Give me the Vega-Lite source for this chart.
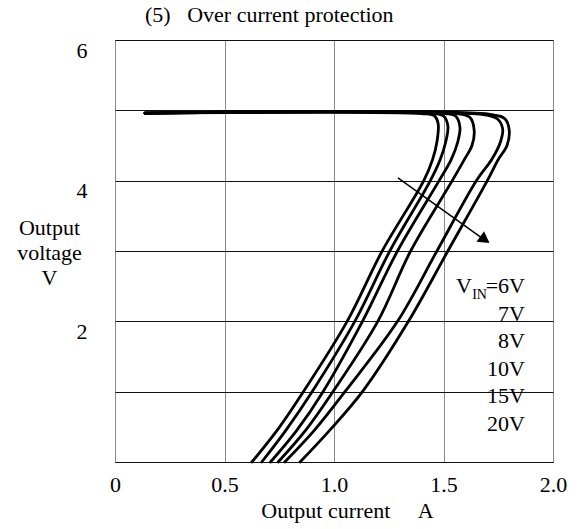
{
  "$schema": "https://vega.github.io/schema/vega-lite/v6.json",
  "autosize": {"type": "none"},
  "padding": {"left": 115, "top": 40, "right": 34, "bottom": 67},
  "width": 438,
  "height": 422,
  "background": "white",
  "config": {
    "font": "Liberation Serif",
    "view": {"stroke": "black", "strokeWidth": 1},
    "text": {"font": "Liberation Serif", "color": "black"}
  },
  "title": {
    "text": "(5)\u00a0\u00a0\u00a0Over current protection",
    "anchor": "start",
    "frame": "group",
    "dx": 30,
    "dy": 23,
    "offset": 13,
    "baseline": "bottom",
    "font": "Liberation Serif",
    "fontSize": 22,
    "fontWeight": "normal",
    "color": "black"
  },
  "datasets": {
    "curves": [
      {"vin": "6V", "i": 0, "A": 0.137, "V": 4.96},
      {"vin": "6V", "i": 1, "A": 1.40, "V": 4.955},
      {"vin": "6V", "i": 2, "A": 1.455, "V": 4.93},
      {"vin": "6V", "i": 3, "A": 1.475, "V": 4.82},
      {"vin": "6V", "i": 4, "A": 1.47, "V": 4.55},
      {"vin": "6V", "i": 5, "A": 1.45, "V": 4.3},
      {"vin": "6V", "i": 6, "A": 1.41, "V": 4.0},
      {"vin": "6V", "i": 7, "A": 1.22, "V": 3.0},
      {"vin": "6V", "i": 8, "A": 1.06, "V": 2.0},
      {"vin": "6V", "i": 9, "A": 0.86, "V": 1.0},
      {"vin": "6V", "i": 10, "A": 0.74, "V": 0.45},
      {"vin": "6V", "i": 11, "A": 0.625, "V": 0.0},
      {"vin": "7V", "i": 0, "A": 0.137, "V": 4.96},
      {"vin": "7V", "i": 1, "A": 1.45, "V": 4.955},
      {"vin": "7V", "i": 2, "A": 1.50, "V": 4.92},
      {"vin": "7V", "i": 3, "A": 1.52, "V": 4.78},
      {"vin": "7V", "i": 4, "A": 1.51, "V": 4.55},
      {"vin": "7V", "i": 5, "A": 1.485, "V": 4.3},
      {"vin": "7V", "i": 6, "A": 1.44, "V": 4.0},
      {"vin": "7V", "i": 7, "A": 1.255, "V": 3.0},
      {"vin": "7V", "i": 8, "A": 1.095, "V": 2.0},
      {"vin": "7V", "i": 9, "A": 0.90, "V": 1.0},
      {"vin": "7V", "i": 10, "A": 0.78, "V": 0.45},
      {"vin": "7V", "i": 11, "A": 0.67, "V": 0.0},
      {"vin": "8V", "i": 0, "A": 0.137, "V": 4.96},
      {"vin": "8V", "i": 1, "A": 1.51, "V": 4.955},
      {"vin": "8V", "i": 2, "A": 1.555, "V": 4.92},
      {"vin": "8V", "i": 3, "A": 1.575, "V": 4.76},
      {"vin": "8V", "i": 4, "A": 1.565, "V": 4.55},
      {"vin": "8V", "i": 5, "A": 1.535, "V": 4.3},
      {"vin": "8V", "i": 6, "A": 1.48, "V": 4.0},
      {"vin": "8V", "i": 7, "A": 1.29, "V": 3.0},
      {"vin": "8V", "i": 8, "A": 1.13, "V": 2.0},
      {"vin": "8V", "i": 9, "A": 0.95, "V": 1.0},
      {"vin": "8V", "i": 10, "A": 0.83, "V": 0.45},
      {"vin": "8V", "i": 11, "A": 0.71, "V": 0.0},
      {"vin": "10V", "i": 0, "A": 0.137, "V": 4.96},
      {"vin": "10V", "i": 1, "A": 1.57, "V": 4.95},
      {"vin": "10V", "i": 2, "A": 1.62, "V": 4.9},
      {"vin": "10V", "i": 3, "A": 1.64, "V": 4.72},
      {"vin": "10V", "i": 4, "A": 1.63, "V": 4.5},
      {"vin": "10V", "i": 5, "A": 1.595, "V": 4.3},
      {"vin": "10V", "i": 6, "A": 1.54, "V": 4.0},
      {"vin": "10V", "i": 7, "A": 1.35, "V": 3.0},
      {"vin": "10V", "i": 8, "A": 1.20, "V": 2.0},
      {"vin": "10V", "i": 9, "A": 0.995, "V": 1.0},
      {"vin": "10V", "i": 10, "A": 0.87, "V": 0.45},
      {"vin": "10V", "i": 11, "A": 0.745, "V": 0.0},
      {"vin": "15V", "i": 0, "A": 0.137, "V": 4.96},
      {"vin": "15V", "i": 1, "A": 1.68, "V": 4.94},
      {"vin": "15V", "i": 2, "A": 1.745, "V": 4.88},
      {"vin": "15V", "i": 3, "A": 1.77, "V": 4.74},
      {"vin": "15V", "i": 4, "A": 1.76, "V": 4.55},
      {"vin": "15V", "i": 5, "A": 1.72, "V": 4.3},
      {"vin": "15V", "i": 6, "A": 1.65, "V": 4.0},
      {"vin": "15V", "i": 7, "A": 1.47, "V": 3.0},
      {"vin": "15V", "i": 8, "A": 1.29, "V": 2.0},
      {"vin": "15V", "i": 9, "A": 1.05, "V": 1.0},
      {"vin": "15V", "i": 10, "A": 0.91, "V": 0.45},
      {"vin": "15V", "i": 11, "A": 0.775, "V": 0.0},
      {"vin": "20V", "i": 0, "A": 0.137, "V": 4.96},
      {"vin": "20V", "i": 1, "A": 1.72, "V": 4.94},
      {"vin": "20V", "i": 2, "A": 1.78, "V": 4.88},
      {"vin": "20V", "i": 3, "A": 1.80, "V": 4.72},
      {"vin": "20V", "i": 4, "A": 1.79, "V": 4.5},
      {"vin": "20V", "i": 5, "A": 1.75, "V": 4.3},
      {"vin": "20V", "i": 6, "A": 1.70, "V": 4.0},
      {"vin": "20V", "i": 7, "A": 1.52, "V": 3.0},
      {"vin": "20V", "i": 8, "A": 1.34, "V": 2.0},
      {"vin": "20V", "i": 9, "A": 1.13, "V": 1.0},
      {"vin": "20V", "i": 10, "A": 0.98, "V": 0.45},
      {"vin": "20V", "i": 11, "A": 0.845, "V": 0.0}
    ],
    "labels": [
      {"txt": "=6V", "A": 1.872, "V": 2.40},
      {"txt": "7V", "A": 1.872, "V": 2.00},
      {"txt": "8V", "A": 1.872, "V": 1.62},
      {"txt": "10V", "A": 1.872, "V": 1.22},
      {"txt": "15V", "A": 1.872, "V": 0.84},
      {"txt": "20V", "A": 1.872, "V": 0.44}
    ],
    "arrow": [
      {"A": 1.292, "V": 4.04, "A2": 1.70, "V2": 3.13}
    ],
    "arrowhead": [
      {"A": 1.689, "V": 3.16}
    ],
    "vsym": [
      {"txt": "V", "A": 1.872, "V": 2.40}
    ],
    "insub": [
      {"txt": "IN", "A": 1.872, "V": 2.40}
    ]
  },
  "layer": [
    {
      "data": {"name": "curves"},
      "mark": {"type": "line", "color": "black", "strokeWidth": 2.8, "interpolate": "catmull-rom", "strokeCap": "round", "strokeJoin": "round"},
      "encoding": {
        "x": {
          "field": "A", "type": "quantitative",
          "scale": {"domain": [0, 2], "nice": false, "zero": false},
          "axis": {
            "values": [0, 0.5, 1, 1.5, 2],
            "grid": true, "gridColor": "#8a8a8a", "gridWidth": 1,
            "domain": false, "ticks": false,
            "labelExpr": "datum.value == 0 ? '0' : format(datum.value, '.1f')",
            "labelFont": "Liberation Serif", "labelFontSize": 22, "labelColor": "black",
            "labelPadding": 12, "labelBaseline": "top", "labelDx": -5,
            "labelFlush": false, "labelOverlap": false,
            "title": "Output current\u00a0\u00a0\u00a0\u00a0\u00a0A",
            "titleFont": "Liberation Serif", "titleFontSize": 22, "titleFontWeight": "normal",
            "titleColor": "black", "titleX": 232, "titleY": 48, "titleBaseline": "middle", "titleAlign": "center"
          }
        },
        "y": {
          "field": "V", "type": "quantitative",
          "scale": {"domain": [0, 6], "nice": false, "zero": false},
          "axis": {
            "values": [0, 1, 2, 3, 4, 5, 6],
            "grid": true, "gridColor": "#111111", "gridWidth": 1,
            "domain": false, "ticks": false,
            "labelExpr": "datum.value == 2 || datum.value == 4 || datum.value == 6 ? format(datum.value, 'd') : ''",
            "labelFont": "Liberation Serif", "labelFontSize": 22, "labelColor": "black",
            "labelPadding": 28, "labelBaseline": "top", "labelAlign": "right",
            "labelFlush": false, "labelOverlap": false,
            "title": ["Output", "voltage", "V"],
            "titleFont": "Liberation Serif", "titleFontSize": 22, "titleFontWeight": "normal",
            "titleColor": "black", "titleAngle": 0, "titleAlign": "center", "titleBaseline": "top",
            "titleX": -66, "titleY": 177, "titleLineHeight": 25
          }
        },
        "detail": {"field": "vin", "type": "nominal"},
        "order": {"field": "i", "type": "quantitative"}
      }
    },
    {
      "data": {"name": "arrow"},
      "mark": {"type": "rule", "color": "black", "strokeWidth": 1.5},
      "encoding": {
        "x": {"field": "A", "type": "quantitative"},
        "y": {"field": "V", "type": "quantitative"},
        "x2": {"field": "A2"},
        "y2": {"field": "V2"}
      }
    },
    {
      "data": {"name": "arrowhead"},
      "mark": {"type": "point", "shape": "triangle-right", "filled": true, "color": "black", "opacity": 1, "size": 170, "angle": 35},
      "encoding": {
        "x": {"field": "A", "type": "quantitative"},
        "y": {"field": "V", "type": "quantitative"}
      }
    },
    {
      "data": {"name": "labels"},
      "mark": {"type": "text", "align": "right", "baseline": "alphabetic", "fontSize": 22, "font": "Liberation Serif", "color": "black"},
      "encoding": {
        "x": {"field": "A", "type": "quantitative"},
        "y": {"field": "V", "type": "quantitative"},
        "text": {"field": "txt"}
      }
    },
    {
      "data": {"name": "vsym"},
      "mark": {"type": "text", "align": "right", "baseline": "alphabetic", "fontSize": 22, "font": "Liberation Serif", "color": "black", "dx": -53},
      "encoding": {
        "x": {"field": "A", "type": "quantitative"},
        "y": {"field": "V", "type": "quantitative"},
        "text": {"field": "txt"}
      }
    },
    {
      "data": {"name": "insub"},
      "mark": {"type": "text", "align": "right", "baseline": "alphabetic", "fontSize": 14, "font": "Liberation Serif", "color": "black", "dx": -38, "dy": 6},
      "encoding": {
        "x": {"field": "A", "type": "quantitative"},
        "y": {"field": "V", "type": "quantitative"},
        "text": {"field": "txt"}
      }
    }
  ]
}
